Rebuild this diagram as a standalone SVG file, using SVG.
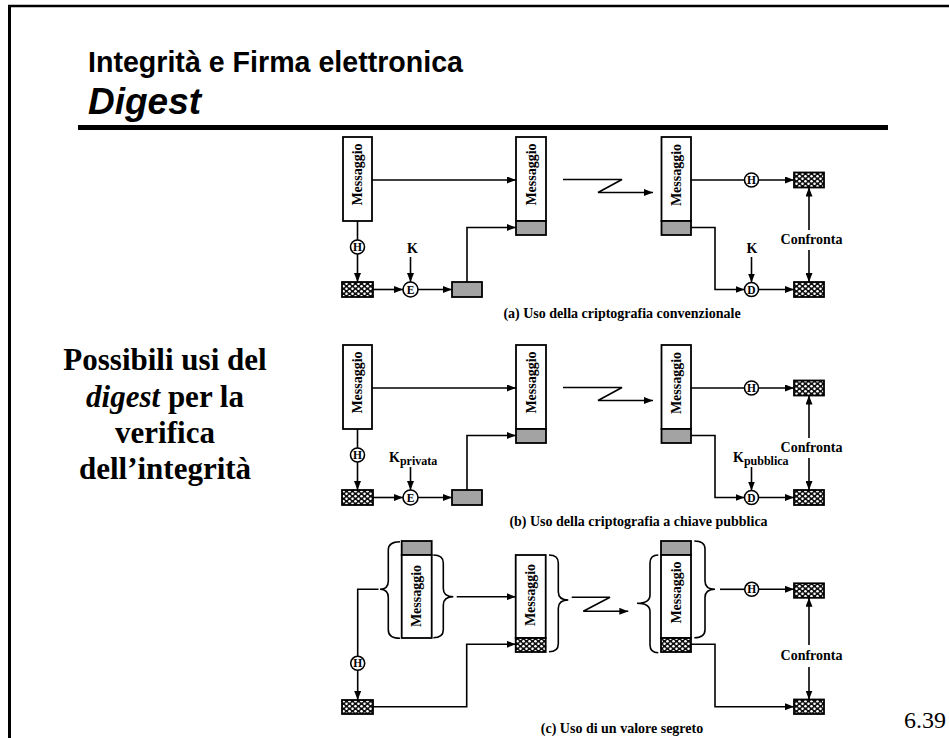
<svg xmlns="http://www.w3.org/2000/svg" width="949" height="738" viewBox="0 0 949 738">
<style>
.box{fill:#fff;stroke:#000;stroke-width:1.8}
.gray{fill:#a3a3a3;stroke:#000;stroke-width:1.8}
.hat{fill:url(#hatch);stroke:#000;stroke-width:1.8}
.circ{fill:#fff;stroke:#000;stroke-width:1.6}
.ln{fill:none;stroke:#000;stroke-width:1.6}
.arr{fill:none;stroke:#000;stroke-width:1.6;marker-end:url(#ah)}
.brace{fill:none;stroke:#000;stroke-width:1.6}
.msg{font-family:"Liberation Serif",serif;font-weight:bold;font-size:14px;text-anchor:middle}
.lbl{font-family:"Liberation Serif",serif;font-weight:bold;font-size:14px;text-anchor:middle}
.klbl{font-family:"Liberation Serif",serif;font-weight:bold;font-size:14px;text-anchor:start}
.cl{font-family:"Liberation Serif",serif;font-weight:bold;font-size:11.5px;text-anchor:middle}
.cap{font-family:"Liberation Serif",serif;font-weight:bold;font-size:14px;text-anchor:middle}
.side{font-family:"Liberation Serif",serif;font-weight:bold;font-size:31px;text-anchor:middle}
</style>
<defs>
<marker id="ah" markerUnits="userSpaceOnUse" markerWidth="9" markerHeight="7" refX="9" refY="3.5" orient="auto">
<path d="M0,0 L9,3.5 L0,7 z" fill="#000"/>
</marker>
<pattern id="hatch" width="6" height="5" patternUnits="userSpaceOnUse">
<rect width="6" height="5" fill="#111"/>
<circle cx="1.5" cy="1.25" r="1.3" fill="#fff"/>
<circle cx="4.5" cy="3.75" r="1.3" fill="#fff"/>
</pattern>
</defs>
<rect width="949" height="738" fill="#fff"/>
<g id="frame">
<line x1="9.5" y1="5" x2="9.5" y2="738" stroke="#000" stroke-width="3"/>
<line x1="8" y1="6" x2="949" y2="6" stroke="#000" stroke-width="2.5"/>
<line x1="78" y1="127.5" x2="888" y2="127.5" stroke="#000" stroke-width="5"/>
</g>
<g id="title">
<text x="88" y="72" font-family="Liberation Sans,Arial,sans-serif" font-weight="bold" font-size="28.6">Integrità e Firma elettronica</text>
<text x="88" y="114" font-family="Liberation Sans,Arial,sans-serif" font-weight="bold" font-style="italic" font-size="37">Digest</text>
</g>
<g id="side-text">
<text class="side" x="165" y="370">Possibili usi del</text>
<text class="side" x="165" y="407"><tspan font-style="italic">digest</tspan> per la</text>
<text class="side" x="165" y="443">verifica</text>
<text class="side" x="165" y="479">dell’integrità</text>
</g>
<text id="page" x="904" y="728" font-family="Liberation Serif,serif" font-size="24">6.39</text>

<!-- ===== (a) ===== -->
<g id="a-msg-src"><rect class="box" x="343" y="137" width="29" height="84"/><text class="msg" transform="translate(357.5,174.5) rotate(-90)" y="4.7">Messaggio</text></g>
<g id="a-H1"><circle class="circ" cx="357.5" cy="247" r="7"/><text class="cl" x="357.5" y="251">H</text></g>
<g id="a-hash1"><rect class="hat" x="342" y="282" width="31" height="15"/></g>
<g id="a-E"><circle class="circ" cx="410.5" cy="289.5" r="7.5"/><text class="cl" x="410.5" y="293.5">E</text></g>
<g id="a-K1"><text class="lbl" x="412.5" y="253">K</text></g>
<g id="a-enc"><rect class="gray" x="452" y="282" width="30" height="15"/></g>
<g id="a-msg-mid"><rect class="box" x="516" y="137" width="30" height="84"/><rect class="gray" x="516" y="221" width="30" height="14"/><text class="msg" transform="translate(531,174.5) rotate(-90)" y="4.7">Messaggio</text></g>
<g id="a-msg-dst"><rect class="box" x="661.5" y="137" width="29.5" height="84"/><rect class="gray" x="661.5" y="221" width="29.5" height="14"/><text class="msg" transform="translate(676.2,175) rotate(-90)" y="4.7">Messaggio</text></g>
<g id="a-H2"><circle class="circ" cx="751.5" cy="180" r="7"/><text class="cl" x="751.5" y="184">H</text></g>
<g id="a-hash2"><rect class="hat" x="794" y="172.5" width="30" height="15"/></g>
<g id="a-D"><circle class="circ" cx="751.5" cy="289.5" r="7"/><text class="cl" x="751.5" y="293.5">D</text></g>
<g id="a-K2"><text class="lbl" x="752" y="253">K</text></g>
<g id="a-hash3"><rect class="hat" x="794" y="282" width="30" height="15"/></g>
<g id="a-conf"><text class="lbl" x="811.5" y="244">Confronta</text></g>
<text class="cap" x="622" y="318">(a) Uso della criptografia convenzionale</text>

<!-- ===== (b) ===== -->
<g id="b-msg-src"><rect class="box" x="343" y="345" width="29" height="84"/><text class="msg" transform="translate(357.5,382.5) rotate(-90)" y="4.7">Messaggio</text></g>
<g id="b-H1"><circle class="circ" cx="357.5" cy="455" r="7"/><text class="cl" x="357.5" y="459">H</text></g>
<g id="b-hash1"><rect class="hat" x="342" y="490" width="31" height="15"/></g>
<g id="b-E"><circle class="circ" cx="410.5" cy="497.5" r="7.5"/><text class="cl" x="410.5" y="501.5">E</text></g>
<g id="b-K1"><text class="klbl" x="389" y="461.5">K<tspan font-size="12" dy="3.5">privata</tspan></text></g>
<g id="b-enc"><rect class="gray" x="452" y="490" width="30" height="15"/></g>
<g id="b-msg-mid"><rect class="box" x="516" y="345" width="30" height="84"/><rect class="gray" x="516" y="429" width="30" height="14"/><text class="msg" transform="translate(531,382.5) rotate(-90)" y="4.7">Messaggio</text></g>
<g id="b-msg-dst"><rect class="box" x="661.5" y="345" width="29.5" height="84"/><rect class="gray" x="661.5" y="429" width="29.5" height="14"/><text class="msg" transform="translate(676.2,383) rotate(-90)" y="4.7">Messaggio</text></g>
<g id="b-H2"><circle class="circ" cx="751.5" cy="388" r="7"/><text class="cl" x="751.5" y="392">H</text></g>
<g id="b-hash2"><rect class="hat" x="794" y="380.5" width="30" height="15"/></g>
<g id="b-D"><circle class="circ" cx="751.5" cy="497.5" r="7"/><text class="cl" x="751.5" y="501.5">D</text></g>
<g id="b-K2"><text class="klbl" x="733" y="461.5">K<tspan font-size="12" dy="3.5">pubblica</tspan></text></g>
<g id="b-hash3"><rect class="hat" x="794" y="490" width="30" height="15"/></g>
<g id="b-conf"><text class="lbl" x="811.5" y="452">Confronta</text></g>
<text class="cap" x="638.5" y="526">(b) Uso della criptografia a chiave pubblica</text>

<!-- ===== (c) ===== -->
<g id="c-msg-src"><rect class="gray" x="401.7" y="541" width="30" height="14"/><rect class="box" x="401.7" y="555" width="30" height="83"/><text class="msg" transform="translate(416.7,596) rotate(-90)" y="4.7">Messaggio</text>
<path class="brace" d="M400,541.7 Q388.3,541.7 388.3,550 V581 Q388.3,589.3 380,589.3 Q388.3,589.3 388.3,597.6 V630 Q388.3,638.3 400,638.3"/>
<path class="brace" d="M433.3,555 Q443.3,555 443.3,563 V588.4 Q443.3,596.7 453.3,596.7 Q443.3,596.7 443.3,605 V629.7 Q443.3,637.7 433.3,637.7"/></g>
<g id="c-H1"><circle class="circ" cx="357.7" cy="663.3" r="7"/><text class="cl" x="357.7" y="667.3">H</text></g>
<g id="c-hash1"><rect class="hat" x="342" y="700" width="31" height="14"/></g>
<g id="c-msg-mid"><rect class="box" x="515.7" y="555" width="30" height="83"/><rect class="hat" x="515.7" y="638" width="30" height="14"/><text class="msg" transform="translate(530.7,595) rotate(-90)" y="4.7">Messaggio</text>
<path class="brace" d="M549,555 Q558.3,555 558.3,563 V591.7 Q558.3,600 568.3,600 Q558.3,600 558.3,608.3 V643.7 Q558.3,651.7 549,651.7"/></g>
<g id="c-msg-dst"><rect class="gray" x="661" y="541" width="30" height="14"/><rect class="box" x="661" y="555" width="30" height="83"/><rect class="hat" x="661" y="638" width="30" height="14"/><text class="msg" transform="translate(676,592.5) rotate(-90)" y="4.7">Messaggio</text>
<path class="brace" d="M658.3,555 Q650,555 650,563 V595 Q650,603.3 637,603.3 Q650,603.3 650,611.6 V644.7 Q650,652.7 658.3,652.7"/>
<path class="brace" d="M694.3,541 Q705,541 705,549 V581 Q705,589.3 715,589.3 Q705,589.3 705,597.6 V629.7 Q705,637.7 694.3,637.7"/></g>
<g id="c-H2"><circle class="circ" cx="751.7" cy="589.3" r="7"/><text class="cl" x="751.7" y="593.3">H</text></g>
<g id="c-hash2"><rect class="hat" x="794" y="583.3" width="30" height="14.5"/></g>
<g id="c-hash3"><rect class="hat" x="794" y="699.5" width="30" height="14.5"/></g>
<g id="c-conf"><text class="lbl" x="811.5" y="660">Confronta</text></g>
<text class="cap" x="622" y="733">(c) Uso di un valore segreto</text>

<g id="connectors">
<!-- a -->
<path class="arr" d="M372,180 H516"/>
<path class="ln" d="M357.5,221 V240"/>
<path class="arr" d="M357.5,254 V282"/>
<path class="arr" d="M373,289.5 H403"/>
<path class="arr" d="M410.5,257 V282"/>
<path class="arr" d="M418,289.5 H452"/>
<path class="arr" d="M467,282 V227.5 H516"/>
<path class="arr" d="M563,179.5 H622 L598,192.5 H653"/>
<path class="ln" d="M691,180 H744.5"/>
<path class="arr" d="M758.5,180 H794"/>
<path class="arr" d="M691,227.5 H715 V289.5 H744.5"/>
<path class="arr" d="M751.5,257 V282.5"/>
<path class="arr" d="M758.5,289.5 H794"/>
<path class="arr" d="M809,230 V187.5"/>
<path class="arr" d="M809,250 V282"/>
<!-- b -->
<path class="arr" d="M372,388 H516"/>
<path class="ln" d="M357.5,429 V448"/>
<path class="arr" d="M357.5,462 V490"/>
<path class="arr" d="M373,497.5 H403"/>
<path class="arr" d="M410.5,467 V490"/>
<path class="arr" d="M418,497.5 H452"/>
<path class="arr" d="M467,490 V435.5 H516"/>
<path class="arr" d="M563,387.5 H622 L598,400.5 H653"/>
<path class="ln" d="M691,388 H744.5"/>
<path class="arr" d="M758.5,388 H794"/>
<path class="arr" d="M691,435.5 H715 V497.5 H744.5"/>
<path class="arr" d="M751.5,467 V490.5"/>
<path class="arr" d="M758.5,497.5 H794"/>
<path class="arr" d="M809,438 V395.5"/>
<path class="arr" d="M809,458 V490"/>
<!-- c -->
<path class="ln" d="M378.5,589.3 H357.7 V656.3"/>
<path class="arr" d="M357.7,670.3 V700"/>
<path class="arr" d="M373,706.7 H466.7 V644.3 H515.7"/>
<path class="arr" d="M456.7,596.7 H515.7"/>
<path class="arr" d="M571.7,597.3 H610 L583.3,611.3 H628.3"/>
<path class="ln" d="M720,589.3 H744.7"/>
<path class="arr" d="M758.7,589.3 H794"/>
<path class="arr" d="M691,644.3 H715 V706.7 H794"/>
<path class="arr" d="M809,645 V597.8"/>
<path class="arr" d="M809,667 V699.5"/>
</g>
</svg>
